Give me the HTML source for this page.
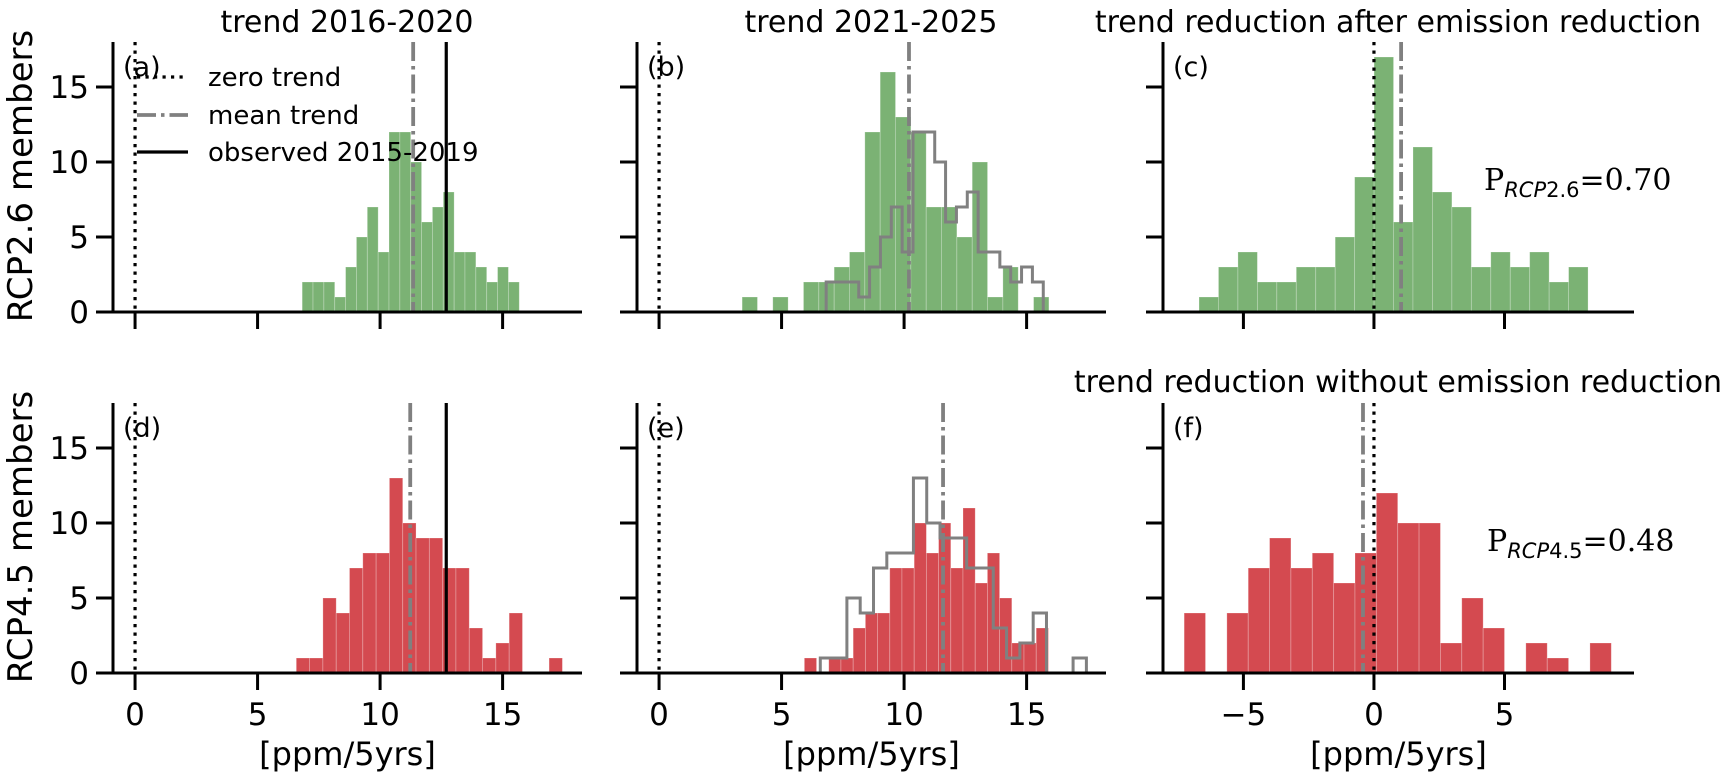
<!DOCTYPE html>
<html><head><meta charset="utf-8"><style>
html,body{margin:0;padding:0;background:#fff;}
svg{display:block;font-family:"DejaVu Sans","Liberation Sans",sans-serif;}
</style></head><body>
<svg id="fig" width="1725" height="777" viewBox="0 0 1725 777" xmlns="http://www.w3.org/2000/svg"></svg>
<script>
// ---- data ----
const countsA = [2,2,2,1,3,5,7,4,12,12,10,6,7,8,4,4,3,2,3,2];
const startA = 6.82, widthA = 0.443;
const countsB = [1,0,1,0,2,2,3,4,12,16,13,12,7,7,5,10,1,3,0,1];
const startB = 3.39, widthB = 0.626;
const countsC = [1,3,4,2,2,3,3,5,9,17,6,11,8,7,3,4,3,4,2,3];
const startC = -6.70, widthC = 0.745;
const countsD = [1,1,5,4,7,8,8,13,10,9,9,7,7,3,1,2,4,0,0,1];
const startD = 6.58, widthD = 0.543;
const countsE = [1,0,1,1,3,4,4,7,7,10,8,10,7,11,6,8,5,2,2,3];
const startE = 5.93, widthE = 0.498;
const countsF = [4,0,4,7,9,7,8,6,8,12,10,10,2,5,3,0,2,1,0,2];
const startF = -7.27, widthF = 0.818;
const meanTrends = [11.35, 10.2, 1.04, 11.23, 11.59, -0.42];
const observedTrend = 12.7;
const yTicks = [0,5,10,15];
const xTicksAB = [0,5,10,15];
const xTicksC = [-5,0,5];

// ---- layout ----
const NS = "http://www.w3.org/2000/svg";
const svg = document.getElementById('fig');
function el(tag, attrs, parent){
  const e = document.createElementNS(NS, tag);
  for (const k in attrs) e.setAttribute(k, attrs[k]);
  (parent||svg).appendChild(e);
  return e;
}
const rows = [{y0:312},{y0:673}];
const cols = [
  {left:113, right:582, xmin:-0.9, xmax:18.24},
  {left:637, right:1106, xmin:-0.9, xmax:18.24},
  {left:1163, right:1634, xmin:-8.08, xmax:9.96}
];
const YMAX = 18, PXC = 15;
const GREEN = '#7bb274', RED = '#d44a50', GRAY = '#808080';

function makeScales(r,c){
  const col = cols[c], row = rows[r];
  const xs = v => col.left + (v-col.xmin)/(col.xmax-col.xmin)*(col.right-col.left);
  const ys = v => row.y0 - v*PXC;
  return {xs, ys};
}

function drawPanel(r,c,counts,start,width,color,overlay,letter){
  const {xs, ys} = makeScales(r,c);
  const col = cols[c], row = rows[r];
  const g = el('g',{});
  
  
  counts.forEach((n,i)=>{
    if (n<=0) return;
    const x0 = xs(start+i*width), x1 = xs(start+(i+1)*width);
    const b = el('rect',{x:x0, y:ys(n), width:x1-x0, height:ys(0)-ys(n), fill:color, stroke:'#ffffff', 'stroke-opacity':0.3, 'stroke-width':0.8}, g);
    
    
  });
  if (overlay){
    let d = '';
    const oc = overlay.counts;
    oc.forEach((n,i)=>{
      const x0 = xs(overlay.start+i*overlay.width), x1 = xs(overlay.start+(i+1)*overlay.width);
      d += (i===0 ? 'M'+x0+','+ys(0)+' ' : '') + 'L'+x0+','+ys(n)+' L'+x1+','+ys(n)+' ';
    });
    const last = xs(overlay.start+oc.length*overlay.width);
    d += 'L'+last+','+ys(0);
    const p = el('path',{d:d, fill:'none', stroke:GRAY, 'stroke-width':3}, g);
    
    
  }
  const top = ys(YMAX);
  const z = el('line',{x1:xs(0),x2:xs(0),y1:top,y2:ys(0),stroke:'#000','stroke-width':3.2,'stroke-dasharray':'3.2,5.3'}, g);
  
  
  const idx = r*3+c;
  const m = el('line',{x1:xs(meanTrends[idx]),x2:xs(meanTrends[idx]),y1:top,y2:ys(0),stroke:GRAY,'stroke-width':3.8,'stroke-dasharray':'19,5,3.5,5'}, g);
  
  
  if (c===0){
    const o = el('line',{x1:xs(observedTrend),x2:xs(observedTrend),y1:top,y2:ys(0),stroke:'#000','stroke-width':3.2}, g);
    
    
  }
  const sl = el('line',{x1:col.left,x2:col.left,y1:top,y2:ys(0)+1.5,stroke:'#000','stroke-width':3}, g);
  
  
  const sb = el('line',{x1:col.left-1.5,x2:col.right,y1:ys(0),y2:ys(0),stroke:'#000','stroke-width':3}, g);
  
  
  yTicks.forEach(t=>{
    el('line',{x1:col.left-17,x2:col.left,y1:ys(t),y2:ys(t),stroke:'#000','stroke-width':3}, g);
    if (c===0){
      const tl = el('text',{x:col.left-24,y:ys(t)+11,'text-anchor':'end','font-size':31,fill:'#000'}, g);
      tl.textContent = t;
      
      
    }
  });
  const xt = c===2 ? xTicksC : xTicksAB;
  xt.forEach(t=>{
    el('line',{x1:xs(t),x2:xs(t),y1:ys(0),y2:ys(0)+17,stroke:'#000','stroke-width':3}, g);
    if (r===1){
      const tl = el('text',{x:xs(t),y:ys(0)+52,'text-anchor':'middle','font-size':31,fill:'#000'}, g);
      tl.textContent = t<0 ? '\u2212'+Math.abs(t) : t;
      
      
    }
  });
  const lt = el('text',{x:col.left+10,y:top+34,'font-size':27,fill:'#000'}, g);
  lt.textContent = '(' + letter + ')';
  
  
  if (r===1){
    const xl = el('text',{x:(col.left+col.right)/2,y:765,'text-anchor':'middle','font-size':32,fill:'#000'}, g);
    xl.textContent = '[ppm/5yrs]';
    
    
  }
}

drawPanel(0,0,countsA,startA,widthA,GREEN,null,'a');
drawPanel(0,1,countsB,startB,widthB,GREEN,{counts:countsA,start:startA,width:widthA},'b');
drawPanel(0,2,countsC,startC,widthC,GREEN,null,'c');
drawPanel(1,0,countsD,startD,widthD,RED,null,'d');
drawPanel(1,1,countsE,startE,widthE,RED,{counts:countsD,start:startD,width:widthD},'e');
drawPanel(1,2,countsF,startF,widthF,RED,null,'f');

function txt(name, s, attrs){
  const t = el('text', attrs);
  t.textContent = s;
  
  
  return t;
}
txt('title-a','trend 2016-2020',{x:347,y:32,'text-anchor':'middle','font-size':30,fill:'#000'});
txt('title-b','trend 2021-2025',{x:871,y:32,'text-anchor':'middle','font-size':30,fill:'#000'});
txt('title-c','trend reduction after emission reduction',{x:1398,y:32,'text-anchor':'middle','font-size':30,fill:'#000'});
txt('title-f','trend reduction without emission reduction',{x:1398,y:392,'text-anchor':'middle','font-size':30,fill:'#000'});
txt('y-axis-title-rcp26','RCP2.6 members',{x:0,y:0,'text-anchor':'middle','font-size':34,fill:'#000',transform:'translate(32,176) rotate(-90)'});
txt('y-axis-title-rcp45','RCP4.5 members',{x:0,y:0,'text-anchor':'middle','font-size':34,fill:'#000',transform:'translate(32,537) rotate(-90)'});
const p1 = el('text',{x:1484,y:190,'font-size':30,fill:'#000','font-family':'"DejaVu Serif","Liberation Serif",serif'});


p1.innerHTML = 'P<tspan font-style="italic" font-size="21" dy="7" font-family="DejaVu Sans">RCP</tspan><tspan font-size="21" dy="0" font-family="DejaVu Sans">2.6</tspan><tspan dy="-7">=0.70</tspan>';
const p2 = el('text',{x:1487,y:551,'font-size':30,fill:'#000','font-family':'"DejaVu Serif","Liberation Serif",serif'});


p2.innerHTML = 'P<tspan font-style="italic" font-size="21" dy="7" font-family="DejaVu Sans">RCP</tspan><tspan font-size="21" dy="0" font-family="DejaVu Sans">4.5</tspan><tspan dy="-7">=0.48</tspan>';

const lg = el('g',{});


const legY = [77,115,152];
el('line',{x1:137,x2:188,y1:legY[0],y2:legY[0],stroke:'#000','stroke-width':3.2,'stroke-dasharray':'3.2,5.3'}, lg);
el('line',{x1:137,x2:188,y1:legY[1],y2:legY[1],stroke:GRAY,'stroke-width':3.8,'stroke-dasharray':'19,5,3.5,5'}, lg);
el('line',{x1:137,x2:188,y1:legY[2],y2:legY[2],stroke:'#000','stroke-width':3.2}, lg);
const legLabels = ['zero trend','mean trend','observed 2015-2019'];
legLabels.forEach((s,i)=>{
  const t = el('text',{x:208,y:legY[i]+9,'font-size':26,fill:'#000'}, lg);
  t.textContent = s;
  
  
});
</script>
</body></html>
